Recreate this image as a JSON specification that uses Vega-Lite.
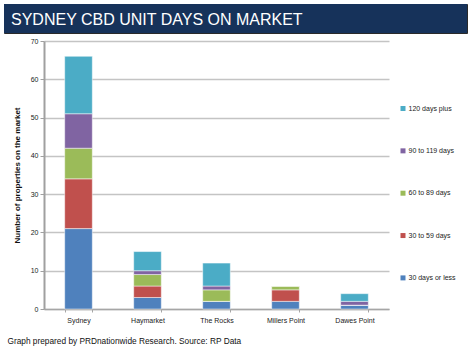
{
  "$schema": "https://vega.github.io/schema/vega-lite/v6.json",
  "padding": {"left": 3, "top": 3, "right": 3, "bottom": 3},
  "background": "white",
  "config": {"font": "Liberation Sans", "view": {"stroke": null}},
  "spacing": 3,
  "vconcat": [
    {
      "width": 463,
      "height": 29,
      "view": {"fill": "#16325a", "stroke": "#2a2a2a", "strokeWidth": 1},
      "data": {"values": [{"b": 1}]},
      "mark": {"type": "rect", "color": "#16325a"},
      "encoding": {},
      "title": {"text": "SYDNEY CBD UNIT DAYS ON MARKET", "orient": "top", "anchor": "start", "frame": "group", "offset": -22, "dy": 15, "baseline": "alphabetic", "fontSize": 16, "fontWeight": "normal", "color": "white", "dx": 7}
    },
    {
      "spacing": 0,
      "hconcat": [
        {
          "width": 3,
          "height": 1,
          "data": {"values": []},
          "mark": {"type": "rect", "opacity": 0},
          "encoding": {}
        },
        {
          "width": 345,
          "height": 268,
          "data": {"values": [
            {"loc": "Sydney", "cat": "30 days or less", "k": 1, "val": 21},
            {"loc": "Sydney", "cat": "30 to 59 days", "k": 2, "val": 13},
            {"loc": "Sydney", "cat": "60 to 89 days", "k": 3, "val": 8},
            {"loc": "Sydney", "cat": "90 to 119 days", "k": 4, "val": 9},
            {"loc": "Sydney", "cat": "120 days plus", "k": 5, "val": 15},
            {"loc": "Haymarket", "cat": "30 days or less", "k": 1, "val": 3},
            {"loc": "Haymarket", "cat": "30 to 59 days", "k": 2, "val": 3},
            {"loc": "Haymarket", "cat": "60 to 89 days", "k": 3, "val": 3},
            {"loc": "Haymarket", "cat": "90 to 119 days", "k": 4, "val": 1},
            {"loc": "Haymarket", "cat": "120 days plus", "k": 5, "val": 5},
            {"loc": "The Rocks", "cat": "30 days or less", "k": 1, "val": 2},
            {"loc": "The Rocks", "cat": "30 to 59 days", "k": 2, "val": 0},
            {"loc": "The Rocks", "cat": "60 to 89 days", "k": 3, "val": 3},
            {"loc": "The Rocks", "cat": "90 to 119 days", "k": 4, "val": 1},
            {"loc": "The Rocks", "cat": "120 days plus", "k": 5, "val": 6},
            {"loc": "Millers Point", "cat": "30 days or less", "k": 1, "val": 2},
            {"loc": "Millers Point", "cat": "30 to 59 days", "k": 2, "val": 3},
            {"loc": "Millers Point", "cat": "60 to 89 days", "k": 3, "val": 1},
            {"loc": "Millers Point", "cat": "90 to 119 days", "k": 4, "val": 0},
            {"loc": "Millers Point", "cat": "120 days plus", "k": 5, "val": 0},
            {"loc": "Dawes Point", "cat": "30 days or less", "k": 1, "val": 1},
            {"loc": "Dawes Point", "cat": "30 to 59 days", "k": 2, "val": 0},
            {"loc": "Dawes Point", "cat": "60 to 89 days", "k": 3, "val": 0},
            {"loc": "Dawes Point", "cat": "90 to 119 days", "k": 4, "val": 1},
            {"loc": "Dawes Point", "cat": "120 days plus", "k": 5, "val": 2}
          ]},
          "mark": {"type": "bar", "stroke": "white", "strokeWidth": 0.6, "strokeOpacity": 0.8},
          "encoding": {
            "x": {"field": "loc", "type": "nominal", "sort": ["Sydney", "Haymarket", "The Rocks", "Millers Point", "Dawes Point"],
              "scale": {"paddingInner": 0.6, "paddingOuter": 0.3},
              "axis": {"title": "Graph prepared by PRDnationwide Research. Source: RP Data", "titleX": -37, "titleY": 34.5, "titleAlign": "left", "titleAnchor": "start", "titleBaseline": "alphabetic", "titleFontSize": 8.3, "titleFontWeight": "normal", "titleColor": "#111",
                "labelAngle": 0, "labelFontSize": 7, "labelColor": "#222", "domainColor": "#a6a6a6", "domainWidth": 1.5, "tickBand": "extent", "tickColor": "#a6a6a6", "tickSize": 3, "labelPadding": 4}},
            "y": {"field": "val", "type": "quantitative", "stack": "zero", "scale": {"domain": [0, 70]},
              "axis": {"title": "Number of properties on the market", "titleFontSize": 8, "titleFontWeight": "bold", "titleColor": "#111", "values": [0, 10, 20, 30, 40, 50, 60, 70], "labelFontSize": 7, "labelColor": "#222", "gridColor": "#c4c4c4", "gridWidth": 1.3, "domainColor": "#a0a0a0", "domainWidth": 2, "tickColor": "#a0a0a0", "tickSize": 4, "labelPadding": 2, "titlePadding": 9}},
            "color": {"field": "cat", "type": "nominal",
              "scale": {"domain": ["120 days plus", "90 to 119 days", "60 to 89 days", "30 to 59 days", "30 days or less"], "range": ["#4bacc6", "#8064a2", "#9bbb59", "#c0504d", "#4f81bd"]},
              "legend": {"title": null, "orient": "none", "legendX": 391.5, "legendY": 97, "padding": 4, "symbolType": "square", "symbolSize": 25, "symbolStrokeWidth": 0, "labelFontSize": 7, "labelColor": "#222", "rowPadding": 34.35, "labelOffset": 2}},
            "order": {"field": "k", "type": "quantitative"}
          }
        }
      ]
    }
  ]
}
